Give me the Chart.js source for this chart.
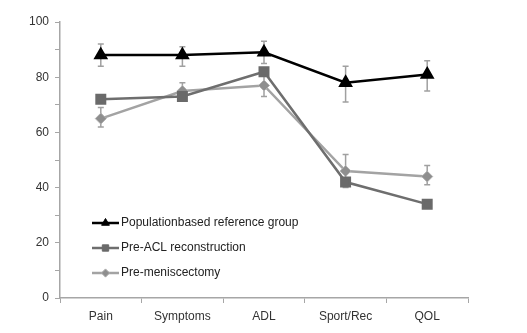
<!DOCTYPE html>
<html>
<head>
<meta charset="utf-8">
<script src="https://cdn.jsdelivr.net/npm/chart.js@4.4.1/dist/chart.umd.min.js"></script>
<style>
  html, body { margin: 0; padding: 0; background: #fff; }
  #wrap { width: 527px; height: 333px; }
</style>
</head>
<body>
<div id="wrap"><canvas id="grafico" width="527" height="333"></canvas></div>
<script>
// dati
const categorie = ['Pain', 'Symptoms', 'ADL', 'Sport/Rec', 'QOL'];
const popolazione = [88, 88, 89, 78, 81];
const popBasso = [84, 84, 85, 71, 75];
const popAlto = [92, 91, 93, 84, 86];
const preACL = [72, 73, 82, 42, 34];
const preMenisco = [65, 75, 77, 46, 44];
const meniscoBasso = [62, 72, 73, 40, 41];
const meniscoAlto = [69, 78, 81, 52, 48];
const etichetteY = [0, 20, 40, 60, 80, 100];

const grigioAsse = '#a6a6a6';
const fontBase = { family: "'Liberation Sans', Arial, sans-serif", size: 12 };

// barre di errore disegnate sotto i punti
const barreErrore = {
    id: 'barreErrore',
    beforeDatasetsDraw(chart) {
        const ctx = chart.ctx;
        const y = chart.scales.y;
        chart.data.datasets.forEach((ds, i) => {
            if (!ds.basso) return;
            const meta = chart.getDatasetMeta(i);
            ctx.save();
            ctx.strokeStyle = '#a0a0a0';
            ctx.lineWidth = 1.5;
            meta.data.forEach((p, j) => {
                const y1 = y.getPixelForValue(ds.basso[j]);
                const y2 = y.getPixelForValue(ds.alto[j]);
                ctx.beginPath();
                ctx.moveTo(p.x, y1); ctx.lineTo(p.x, y2);
                ctx.moveTo(p.x - 3, y1); ctx.lineTo(p.x + 3, y1);
                ctx.moveTo(p.x - 3, y2); ctx.lineTo(p.x + 3, y2);
                ctx.stroke();
            });
            ctx.restore();
        });
    }
};

// legenda dentro l'area del grafico
const legendaInterna = {
    id: 'legendaInterna',
    afterDraw(chart) {
        const ctx = chart.ctx;
        const x0 = 92, x1 = 119;
        let yy = 223;
        chart.data.datasets.forEach(ds => {
            ctx.save();
            ctx.strokeStyle = ds.borderColor;
            ctx.lineWidth = ds.borderWidth;
            ctx.beginPath();
            ctx.moveTo(x0, yy); ctx.lineTo(x1, yy);
            ctx.stroke();
            ctx.fillStyle = ds.pointBackgroundColor;
            ctx.strokeStyle = ds.pointBorderColor;
            ctx.lineWidth = 1;
            Chart.helpers.drawPoint(ctx, {
                pointStyle: ds.pointStyle,
                radius: ds.pointRadius * 0.75,
                rotation: 0,
                borderWidth: 1
            }, (x0 + x1) / 2, yy);
            ctx.fillStyle = '#222';
            ctx.font = "12px 'Liberation Sans', Arial, sans-serif";
            ctx.textBaseline = 'middle';
            ctx.fillText(ds.label, x1 + 2, yy);
            ctx.restore();
            yy += 25;
        });
    }
};

new Chart(document.getElementById('grafico'), {
    type: 'line',
    data: {
        labels: categorie,
        datasets: [{
            label: 'Populationbased reference group',
            data: popolazione,
            basso: popBasso,
            alto: popAlto,
            borderColor: '#000',
            borderWidth: 2.5,
            pointStyle: 'triangle',
            pointRadius: 6,
            pointBackgroundColor: '#000',
            pointBorderColor: '#000',
            tension: 0
        }, {
            label: 'Pre-ACL reconstruction',
            data: preACL,
            borderColor: '#6e6e6e',
            borderWidth: 2.5,
            pointStyle: 'rect',
            pointRadius: 6,
            pointBackgroundColor: '#6a6a6a',
            pointBorderColor: '#6a6a6a',
            tension: 0
        }, {
            label: 'Pre-meniscectomy',
            data: preMenisco,
            basso: meniscoBasso,
            alto: meniscoAlto,
            borderColor: '#a3a3a3',
            borderWidth: 2.5,
            pointStyle: 'rectRot',
            pointRadius: 5.5,
            pointBackgroundColor: '#8e8e8e',
            pointBorderColor: '#b0b0b0',
            pointBorderWidth: 1,
            tension: 0
        }]
    },
    options: {
        responsive: false,
        animation: false,
        layout: { padding: { top: 22, right: 59, bottom: 0, left: 0 } },
        plugins: {
            legend: { display: false },
            tooltip: { enabled: false }
        },
        scales: {
            x: {
                offset: true,
                grid: { offset: true, drawOnChartArea: false, drawTicks: true, tickLength: 5, color: grigioAsse },
                border: { color: grigioAsse, width: 1.5 },
                ticks: { color: '#333', font: fontBase, padding: 6, maxRotation: 0 },
                afterFit(scale) { scale.height = 35; }
            },
            y: {
                min: 0,
                max: 100,
                grid: { drawOnChartArea: false, drawTicks: true, tickLength: 5, color: grigioAsse },
                border: { color: grigioAsse, width: 1.5 },
                ticks: {
                    stepSize: 10,
                    color: '#333',
                    font: fontBase,
                    padding: 6,
                    callback: v => etichetteY.includes(v) ? v : ''
                },
                afterFit(scale) { scale.width = 60; }
            }
        }
    },
    plugins: [barreErrore, legendaInterna]
});
</script>
</body>
</html>
